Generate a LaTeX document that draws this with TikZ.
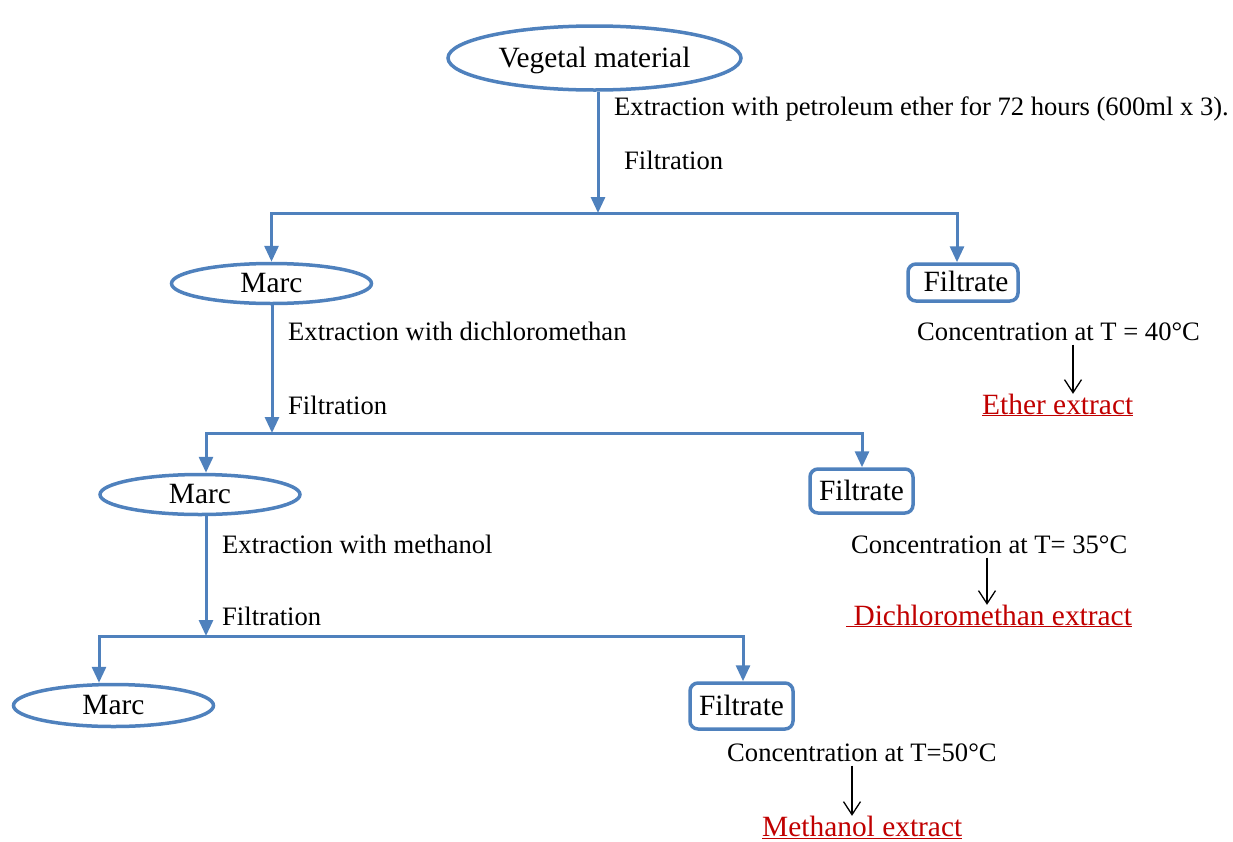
\documentclass[tikz,border=0pt]{standalone}
\usepackage{fontspec}
\setmainfont{Liberation Serif}
\usetikzlibrary{shapes.geometric,arrows.meta}
\definecolor{bl}{RGB}{79,129,189}
\definecolor{rd}{RGB}{192,0,0}
\tikzset{
  oval/.style={ellipse, draw=bl, line width=3.5pt, inner sep=0pt, font=\fontsize{29.4}{32}\selectfont, text height=21pt, text depth=3pt},
  fbox/.style={draw=bl, line width=3.5pt, rounded corners=8pt, inner sep=0pt, font=\fontsize{29.4}{32}\selectfont, text height=21pt, text depth=3pt},
  lbl/.style={anchor=west, inner sep=0pt, font=\fontsize{26.6}{30}\selectfont, text height=19pt, text depth=4pt},
  extr/.style={anchor=west, inner sep=0pt, text=rd, font=\fontsize{29.4}{32}\selectfont, text height=20pt, text depth=6pt},
  flow/.style={draw=bl, line width=3pt, -{Triangle[width=14pt,length=16pt]}},
  conc/.style={draw=black, line width=1.3pt, -{Straight Barb[width=17pt,length=13pt,line width=1.3pt]}}
}
\begin{document}
\begin{tikzpicture}[x=1pt,y=-1pt]
\useasboundingbox (0,0) rectangle (1233,841);
% nodes
\node[oval, minimum width=293pt, minimum height=64pt] (veg) at (594.5,58) {Vegetal material};
\node[oval, minimum width=200pt, minimum height=40pt] (marc1) at (271.5,283.5) {Marc};
\node[fbox, minimum width=110pt, minimum height=37pt] (fil1) at (963,282.5) {\hspace*{6pt}Filtrate};
\node[oval, minimum width=200pt, minimum height=40pt] (marc2) at (200,494.5) {Marc};
\node[fbox, minimum width=103pt, minimum height=44pt] (fil2) at (861.5,491) {Filtrate};
\node[oval, minimum width=200pt, minimum height=42pt] (marc3) at (113.5,705.5) {Marc};
\node[fbox, minimum width=103pt, minimum height=46pt] (fil3) at (741.5,706) {Filtrate};
% labels
\node[lbl] (l1) at (614,108) {Extraction with petroleum ether for 72 hours (600ml x 3).};
\node[lbl] (f1) at (624,162) {Filtration};
\node[lbl] (l2) at (288,333) {Extraction with dichloromethan};
\node[lbl] (f2) at (288,407) {Filtration};
\node[lbl] (l3) at (222,546) {Extraction with methanol};
\node[lbl] (f3) at (222,618) {Filtration};
\node[lbl] (c1) at (917,333) {Concentration at T = 40°C};
\node[lbl] (c2) at (851,546) {Concentration at T= 35°C};
\node[lbl] (c3) at (727,754) {Concentration at T=50°C};
\node[extr] (e1) at (982,407) {\underline{Ether extract}};
\node[extr] (e2) at (846,618) {\underline{\ Dichloromethan extract}};
\node[extr] (e3) at (762,829) {\underline{Methanol extract}};
% junction coordinates
\coordinate (j1) at (598,213);
\coordinate (j2) at (272,433);
\coordinate (j3) at (206,636);
\coordinate (t1) at (957,0);
\coordinate (t2) at (862,0);
\coordinate (t3) at (743,0);
\coordinate (s2) at (206,0);
\coordinate (s3) at (99,0);
\coordinate (k1) at (1073,0);
\coordinate (k2) at (987,0);
\coordinate (k3) at (852,0);
% flow
\draw[flow] (veg.south -| j1) -- (j1);
\draw[flow] (j1) -| (marc1.north);
\draw[flow] (j1) -| (fil1.north -| t1);
\draw[flow] (marc1.south -| j2) -- (j2);
\draw[flow] (j2) -| (marc2.north -| s2);
\draw[flow] (j2) -| (fil2.north -| t2);
\draw[flow] (marc2.south -| j3) -- (j3);
\draw[flow] (j3) -| (marc3.north -| s3);
\draw[flow] (j3) -| (fil3.north -| t3);
% concentration arrows
\draw[conc] (c1.south -| k1) -- (e1.north -| k1);
\draw[conc] (c2.south -| k2) -- (e2.north -| k2);
\draw[conc] (c3.south -| k3) -- (e3.north -| k3);
\end{tikzpicture}
\end{document}
